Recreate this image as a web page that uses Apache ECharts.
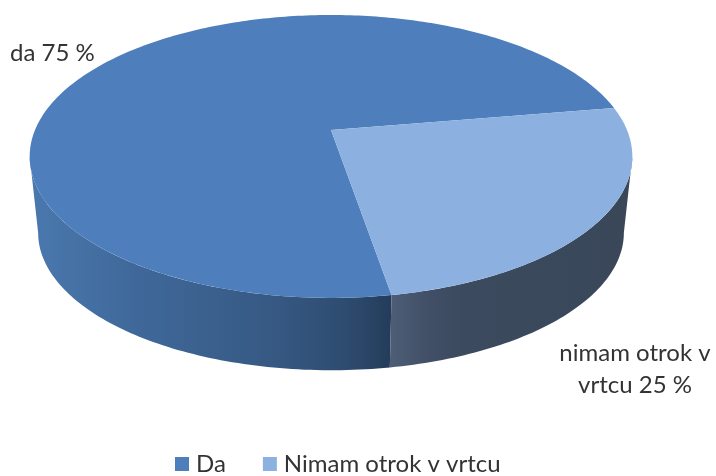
<!DOCTYPE html>
<html>
<head>
<meta charset="utf-8">
<style>html,body{margin:0;padding:0;background:#fff}#c{width:716px;height:476px}</style>
<script src="https://cdn.jsdelivr.net/npm/echarts@6/dist/echarts.min.js"></script>
</head>
<body>
<div id="c"></div>
<script>
const categories = ['Da', 'Nimam otrok v vrtcu'];
const values = [75, 25];
const labelNames = ['da', 'nimam otrok v\nvrtcu'];
const colors = ['#4e7fbc', '#8cb1e0'];

// Perspective disc layout
const startAngle = 80.4, k = 0.187, cx = 331;
const topDisc = { y0: 130, A: 296, B: 136.5 };
const baseDisc = { y0: 207, A: 287.7, B: 132.7 };
const labelLayout = [
  { x: 10, y: 53, align: 'left' },
  { x: 635, y: 369, align: 'center' }
];
const wallFills = [
  { x0: 30, x1: 392, stops: [[0, '#4a78ae'], [0.3, '#3f6899'], [0.65, '#375a85'], [0.87, '#2e4c70'], [1, '#243c5a']] },
  { x0: 392, x1: 632, stops: [[0, '#4d5d75'], [0.16, '#404f66'], [0.3, '#3b4a5e'], [1, '#394759']] }
];

const total = values.reduce((a, b) => a + b, 0);
function project(disc, deg) {
  const r = deg * Math.PI / 180, u = Math.cos(r), v = Math.sin(r), w = 1 - k * v;
  return [cx + disc.A * u / w, disc.y0 + disc.B * v / w];
}
function arc(disc, from, to) {
  const pts = [];
  const n = Math.max(2, Math.ceil(Math.abs(to - from)));
  for (let i = 0; i <= n; i++) pts.push(project(disc, from + (to - from) * i / n));
  return pts;
}
// Part of [from, to] on the near side of the disc, between its two silhouette tangents
function nearRange(from, to) {
  const tangent = Math.asin(k) * 180 / Math.PI;
  for (let turn = 0; turn <= 360; turn += 360) {
    const a = Math.max(from, turn + tangent), b = Math.min(to, turn + 180 - tangent);
    if (b > a) return [a, b];
  }
  return null;
}
function renderSlice(idx) {
  return function (params, api) {
    const before = values.slice(0, idx).reduce((a, b) => a + b, 0);
    const from = startAngle + before / total * 360;
    const to = from + api.value(0) / total * 360;
    const near = nearRange(from, to);
    const wf = wallFills[idx];
    const top = [[cx, topDisc.y0]].concat(arc(topDisc, from, to));
    const lay = labelLayout[idx];
    const children = [
      { type: 'polygon', z2: 2, shape: { points: top }, style: { fill: colors[idx] } },
      { type: 'text', z2: 3, style: {
          text: labelNames[idx] + ' ' + api.value(0) + ' %',
          x: lay.x, y: lay.y, align: lay.align, verticalAlign: 'middle',
          font: '24px Lato', lineHeight: 32, fill: '#333333' } }
    ];
    if (near) {
      const wall = arc(topDisc, near[0], near[1]).concat(arc(baseDisc, near[0], near[1]).reverse());
      children.unshift({ type: 'polygon', z2: 1, shape: { points: wall },
        style: { fill: new echarts.graphic.LinearGradient(wf.x0, 0, wf.x1, 0,
          wf.stops.map(s => ({ offset: s[0], color: s[1] })), true) } });
    }
    return { type: 'group', children };
  };
}
const chart = echarts.init(document.getElementById('c'), null, { renderer: 'canvas' });
chart.setOption({
  animation: false,
  backgroundColor: '#ffffff',
  legend: {
    left: 175, top: 452, padding: 0, itemWidth: 14, itemHeight: 14, itemGap: 37, icon: 'rect',
    textStyle: { fontFamily: 'Lato', fontSize: 24, color: '#333333', padding: [0, 0, 0, 2] },
    data: categories
  },
  series: categories.map((name, i) => ({
    type: 'custom', name, coordinateSystem: 'none',
    itemStyle: { color: colors[i] },
    renderItem: renderSlice(i),
    data: [[values[i]]]
  }))
});
</script>
</body>
</html>
